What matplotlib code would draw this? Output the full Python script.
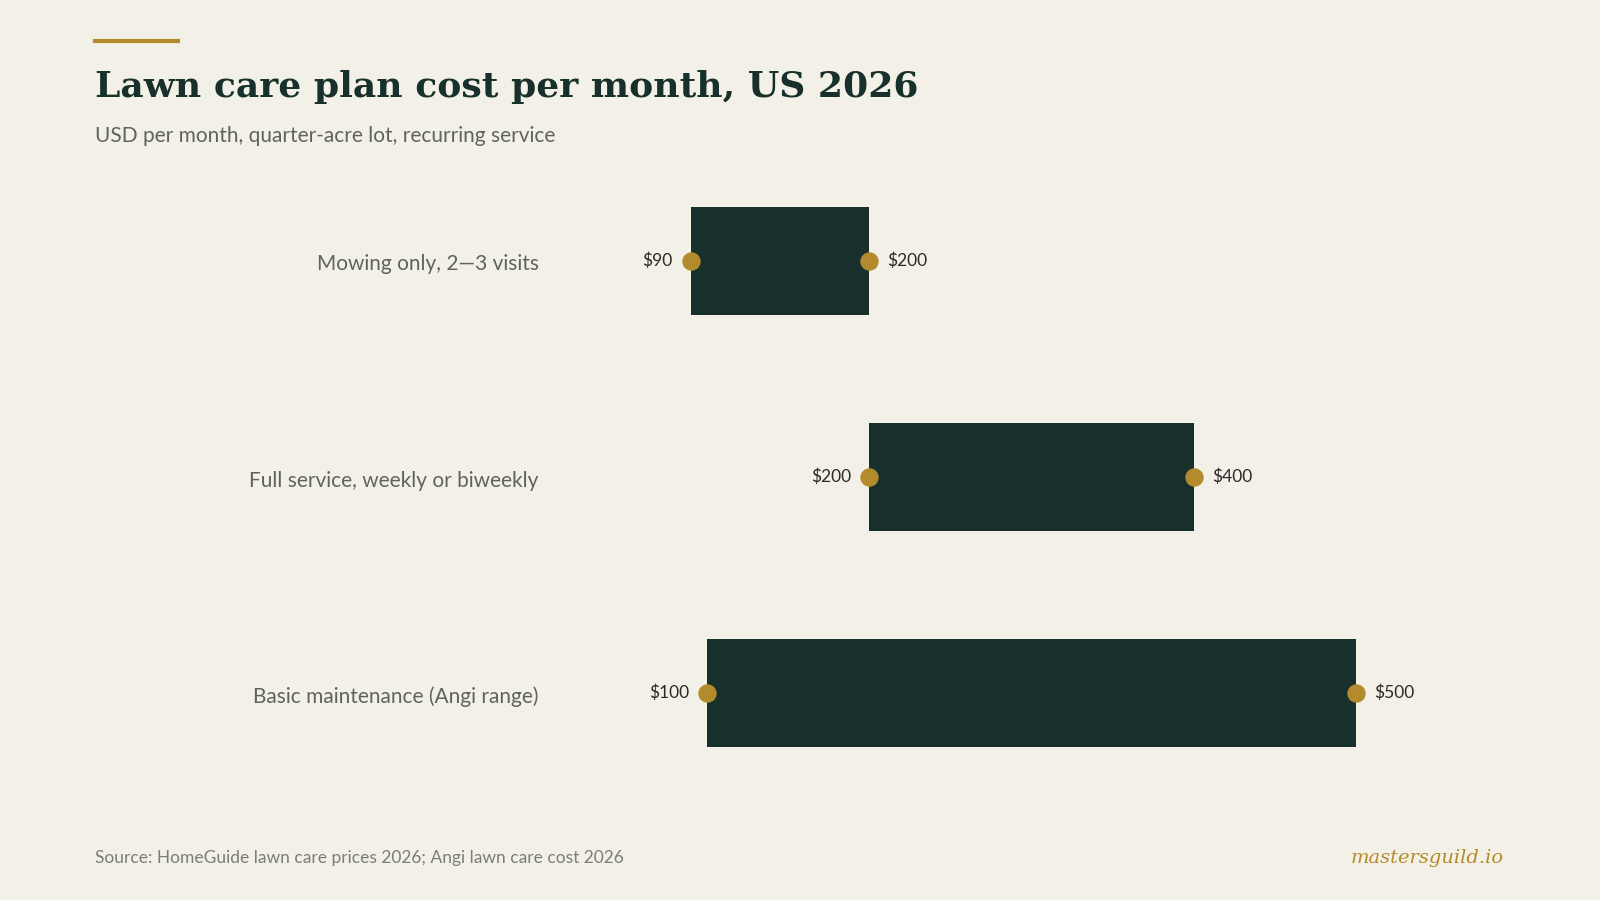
import matplotlib
matplotlib.use("Agg")
import matplotlib.pyplot as plt
from matplotlib.lines import Line2D

categories = ["Mowing only, 2—3 visits", "Full service, weekly or biweekly", "Basic maintenance (Angi range)"]
low = [90, 200, 100]
high = [200, 400, 500]

BG = "#f3f1e7"; DARK = "#17302b"; GOLD = "#b38b2d"; GREY = "#5f6360"
W, H = 1568, 882
fig = plt.figure(figsize=(16, 9), dpi=100)
fig.patch.set_facecolor(BG)

def fx(px): return px / W
def fy(py): return 1 - py / H

ax = fig.add_axes([fx(534), fy(785), fx(1472) - fx(534), (785 - 150) / H])
ax.set_facecolor(BG)
ax.set_xlim(0, 590)
ax.set_ylim(2.5, -0.5)
ax.axis("off")

for i, (c, lo, hi) in enumerate(zip(categories, low, high)):
    ax.barh(i, hi - lo, left=lo, height=0.5, color=DARK, zorder=2)
    ax.scatter([lo, hi], [i, i], s=150, color=GOLD, zorder=3)
    ax.annotate(f"${lo}", (lo, i), xytext=(-13, 0), textcoords="offset points",
                ha="right", va="center", fontsize=12.5, color="#2a2a2a", family="Lato")
    ax.annotate(f"${hi}", (hi, i), xytext=(13, 0), textcoords="offset points",
                ha="left", va="center", fontsize=12.5, color="#2a2a2a", family="Lato")
    fig.text(fx(528), fy([259, 471, 683][i]), c, ha="right", va="center",
             fontsize=15, color=GREY, family="Lato")

fig.add_artist(Line2D([fx(93), fx(174)], [fy(40), fy(40)], color=GOLD, lw=3))
fig.text(fx(93), fy(85), "Lawn care plan cost per month, US 2026", fontsize=26,
         fontweight="bold", color=DARK, family="DejaVu Serif", va="center")
fig.text(fx(93), fy(133), "USD per month, quarter-acre lot, recurring service",
         fontsize=15, color=GREY, family="Lato", va="center")
fig.text(fx(93), fy(841), "Source: HomeGuide lawn care prices 2026; Angi lawn care cost 2026",
         fontsize=12.5, color="#7a7d7a", family="Lato", va="center")
fig.text(fx(1474), fy(841), "mastersguild.io", fontsize=14, color=GOLD,
         family="DejaVu Serif", style="italic", ha="right", va="center")

fig.savefig("out.png", dpi=100, facecolor=BG)
